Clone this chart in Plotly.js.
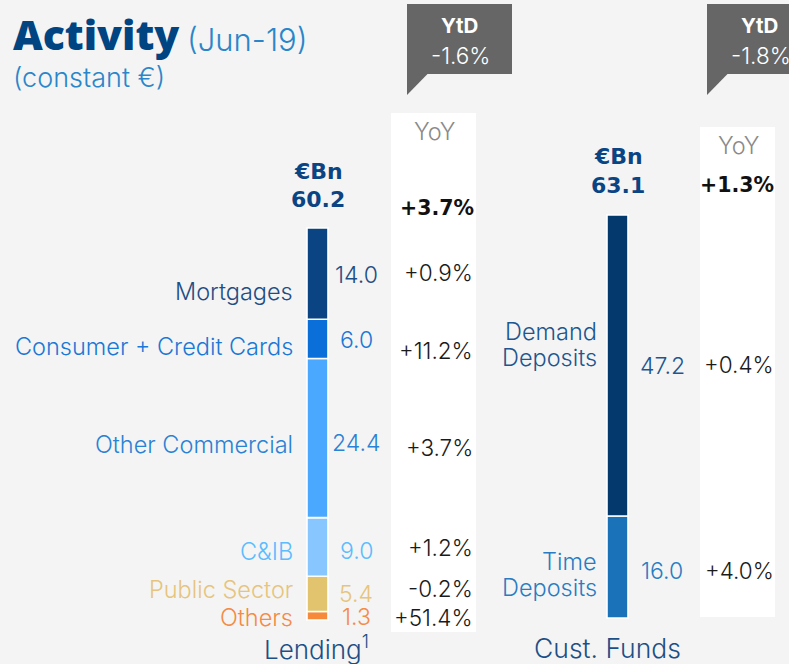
<!DOCTYPE html>
<html><head><meta charset="utf-8">
<script src="https://cdn.plot.ly/plotly-3.0.1.min.js"></script>
<style>html,body{margin:0;padding:0;background:#f4f4f4;}#chart{width:789px;height:664px;}</style>
</head><body><div id="chart"></div>
<script>
// ---- data ----
const groups = ['Lending', 'Cust. Funds'];
const groupLabels = ['Lending<sup>1</sup>', 'Cust. Funds'];
const lendingCats = ['Mortgages', 'Consumer + Credit Cards', 'Other Commercial', 'C&IB', 'Public Sector', 'Others'];
const lendingVals = [14.0, 6.0, 24.4, 9.0, 5.4, 1.3];
const lendingYoY = ['+0.9%', '+11.2%', '+3.7%', '+1.2%', '-0.2%', '+51.4%'];
const lendingTotal = 60.2;
const lendingTotalYoY = '+3.7%';
const lendingYtD = '-1.6%';
const fundsCats = ['Demand<br>Deposits', 'Time<br>Deposits'];
const fundsVals = [47.2, 16.0];
const fundsYoY = ['+0.4%', '+4.0%'];
const fundsTotal = 63.1;
const fundsTotalYoY = '+1.3%';
const fundsYtD = '-1.8%';

// ---- styles ----
const W = 789, H = 664;
const FONT = 'Inter, "Open Sans", sans-serif';
const BOLDFONT = '"DejaVu Sans", Inter, sans-serif';
const TITLEFONT = '"Open Sans", sans-serif';
const lendingBarColors = ['#0b4483', '#0a6fd8', '#4aa8fe', '#88c6ff', '#e2c46e', '#f68a3a'];
const lendingTextColors = ['#1f4e85', '#1a78d6', '#2a82d4', '#5bbcff', '#e6c47e', '#f58b46'];
const fundsBarColors = ['#04396e', '#1a72b8'];
const fundsTextColors = ['#1d5690', '#2a7cc2'];
const lendLabelY = [291, 347, 444, 551, 589, 617];
const lendValY = [275, 340, 443, 551, 594, 617];
const lendYoYY = [272, 350, 447, 547, 588, 617];
const fundLabelY = [331, 561];
const fundValY = [366, 571];
const fundYoYY = [364, 570];

const px = x => x / W;
const py = y => 1 - y / H;

const traces = [];
let base = 0;
for (let i = lendingVals.length - 1; i >= 0; i--) {
  traces.push({type: 'bar', x: [groups[0]], y: [lendingVals[i]], base: [base], width: 0.07,
    marker: {color: lendingBarColors[i], line: {color: '#ffffff', width: 1.6}},
    yaxis: 'y', hoverinfo: 'skip', showlegend: false});
  base += lendingVals[i];
}
base = 0;
for (let i = fundsVals.length - 1; i >= 0; i--) {
  traces.push({type: 'bar', x: [groups[1]], y: [fundsVals[i]], base: [base], width: 0.07,
    marker: {color: fundsBarColors[i], line: {color: '#ffffff', width: 1.6}},
    yaxis: 'y2', hoverinfo: 'skip', showlegend: false});
  base += fundsVals[i];
}

const ann = [];
function T(text, x, y, size, color, xanchor, weight, family) {
  ann.push({text: text, x: px(x), y: py(y), xref: 'paper', yref: 'paper',
    xanchor: xanchor || 'center', yanchor: 'middle', showarrow: false, borderpad: 0,
    font: {family: family || FONT, size: size, color: color, weight: weight || 400}});
}
T('Activity', 12, 34, 41, '#004481', 'left', 800, TITLEFONT);
T('(Jun-19)', 186, 40, 31, '#2a86ca', 'left', 300);
T('(constant €)', 12, 77, 27, '#2a86ca', 'left', 300);

lendingCats.forEach((c, i) => {
  T(c, 294, lendLabelY[i], 23.5, lendingTextColors[i], 'right', 300);
  T(lendingVals[i].toFixed(1), 356, lendValY[i], 23, lendingTextColors[i], 'center', 300);
  T(lendingYoY[i], 474, lendYoYY[i], 22.5, '#1a1a1a', 'right', 300);
});
T('€Bn', 318, 171, 22, '#0b4483', 'center', 700, BOLDFONT);
T(lendingTotal.toFixed(1), 318, 200, 22, '#0b4483', 'center', 700, BOLDFONT);
T('YoY', 434, 131, 23.5, '#8a8a8a', 'center', 300);
T(lendingTotalYoY, 437, 208, 20.5, '#111111', 'center', 700, BOLDFONT);
T(groupLabels[0], 316, 647, 26, '#1d4f86', 'center', 300);

fundsCats.forEach((c, i) => {
  c.split('<br>').forEach((line, k) => {
    T(line, 598, fundLabelY[i] + k * 26, 23.5, fundsTextColors[i], 'right', 300);
  });
  T(fundsVals[i].toFixed(1), 662, fundValY[i], 23, fundsTextColors[i], 'center', 300);
  T(fundsYoY[i], 775, fundYoYY[i], 22.5, '#1a1a1a', 'right', 300);
});
T('€Bn', 618, 156, 22, '#0b4483', 'center', 700, BOLDFONT);
T(fundsTotal.toFixed(1), 618, 186, 22, '#0b4483', 'center', 700, BOLDFONT);
T('YoY', 738, 145, 23.5, '#8a8a8a', 'center', 300);
T(fundsTotalYoY, 737, 185, 20.5, '#111111', 'center', 700, BOLDFONT);
T(groupLabels[1], 607.5, 648, 26.5, '#1d4f86', 'center', 300);

T('YtD', 459, 25, 20.5, '#ffffff', 'center', 700);
T(lendingYtD, 461, 56, 22.5, '#ffffff', 'center', 300);
T('YtD', 759, 25, 20.5, '#ffffff', 'center', 700);
T(fundsYtD, 761, 56, 22.5, '#ffffff', 'center', 300);

const shapes = [];
function rect(x0, y0, x1, y1, color) {
  shapes.push({type: 'rect', xref: 'paper', yref: 'paper', x0: px(x0), x1: px(x1), y0: py(y1), y1: py(y0),
    fillcolor: color, line: {width: 0}, layer: 'below'});
}
function tri(x0, y0, color) {
  shapes.push({type: 'path', xref: 'paper', yref: 'paper',
    path: `M ${px(x0)} ${py(y0)} L ${px(x0)} ${py(95)} L ${px(x0 + 21)} ${py(y0)} Z`,
    fillcolor: color, line: {width: 0}, layer: 'below'});
}
rect(391, 113, 476, 632, '#ffffff');
rect(700, 127, 775, 617, '#ffffff');
rect(407, 4, 512, 74, '#666666');
tri(407, 73.5, '#666666');
rect(707, 4, 800, 74, '#666666');
tri(707, 73.5, '#666666');

const layout = {
  width: W, height: H,
  margin: {l: 0, r: 0, t: 0, b: 0},
  paper_bgcolor: '#f4f4f4', plot_bgcolor: 'rgba(0,0,0,0)',
  barmode: 'overlay',
  showlegend: false,
  xaxis: {type: 'category', categoryorder: 'array', categoryarray: groups,
    range: [-1.0583, 1.5717], visible: false, fixedrange: true},
  yaxis: {range: [-6.745, 95.05], visible: false, fixedrange: true},
  yaxis2: {range: [-7.213, 96.91], overlaying: 'y', visible: false, fixedrange: true},
  annotations: ann,
  shapes: shapes,
  font: {family: FONT}
};
Plotly.newPlot('chart', traces, layout, {displayModeBar: false, staticPlot: true});
</script></body></html>
